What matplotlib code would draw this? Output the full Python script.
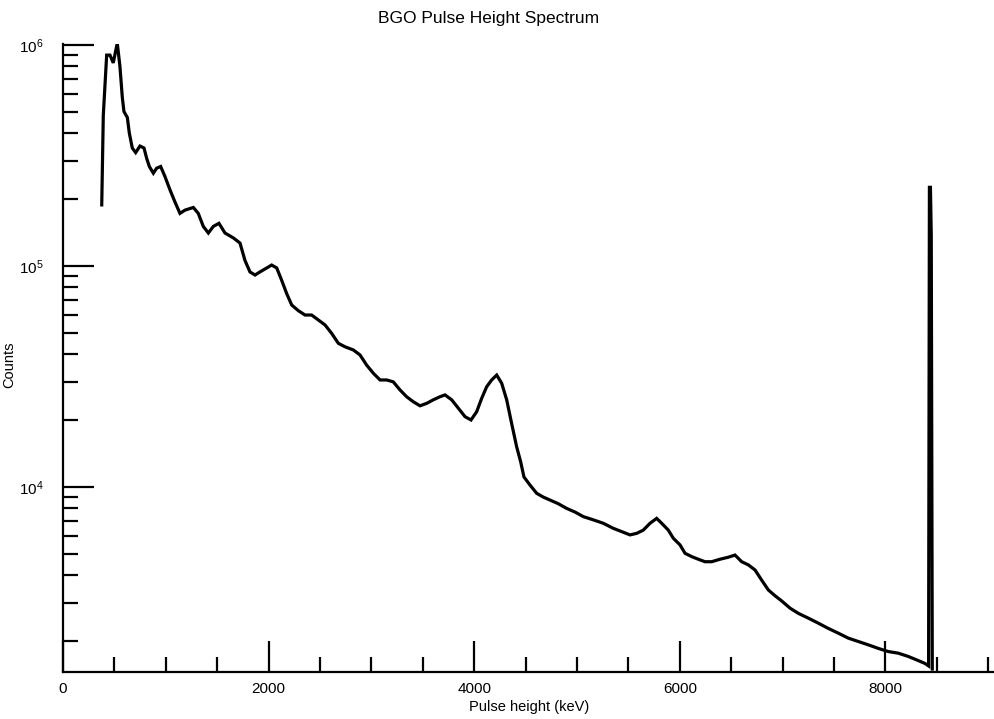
import matplotlib
matplotlib.use("Agg")
import matplotlib.pyplot as plt
from matplotlib.ticker import MultipleLocator, LogLocator, NullFormatter

plt.rcParams["font.family"] = ["Liberation Sans", "DejaVu Sans"]
plt.rcParams["mathtext.fontset"] = "custom"
plt.rcParams["mathtext.rm"] = "Liberation Sans"
plt.rcParams["mathtext.it"] = "Liberation Sans"

# pulse height (keV) and counts
energy_kev = [
    377, 392, 425, 457, 489, 528, 554, 577, 593, 626, 645, 674, 707, 749, 788,
    814, 840, 879, 911, 950, 992, 1041, 1089, 1138, 1187, 1268, 1316, 1365,
    1414, 1462, 1517, 1576, 1657, 1722, 1770, 1819, 1868, 1916, 1981, 2030,
    2079, 2128, 2176, 2225, 2289, 2354, 2419, 2484, 2549, 2613, 2678, 2743,
    2824, 2889, 2954, 3019, 3084, 3149, 3213, 3278, 3343, 3408, 3473, 3538,
    3602, 3667, 3716, 3781, 3846, 3911, 3969, 4024, 4073, 4121, 4170, 4219,
    4267, 4316, 4364, 4413, 4452, 4484, 4543, 4608, 4672, 4737, 4818, 4899,
    4981, 5062, 5159, 5256, 5353, 5435, 5516, 5581, 5645, 5710, 5775, 5824,
    5888, 5937, 6002, 6051, 6116, 6180, 6245, 6310, 6391, 6472, 6537, 6602,
    6667, 6732, 6796, 6861, 6926, 6991, 7072, 7153, 7250, 7347, 7445, 7542,
    7639, 7736, 7834, 7931, 8028, 8125, 8223, 8304, 8385, 8420, 8428, 8438,
    8446, 8456,
]
counts = [
    1.89e5, 4.8e5, 9.0e5, 9.0e5, 8.3e5, 1.02e6, 8.0e5, 5.8e5, 5.0e5, 4.7e5,
    4.0e5, 3.42e5, 3.26e5, 3.49e5, 3.42e5, 3.07e5, 2.82e5, 2.63e5, 2.77e5,
    2.82e5, 2.54e5, 2.21e5, 1.95e5, 1.73e5, 1.79e5, 1.84e5, 1.73e5, 1.51e5,
    1.41e5, 1.51e5, 1.56e5, 1.41e5, 1.34e5, 1.27e5, 1.06e5, 9.4e4, 9.1e4,
    9.4e4, 9.8e4, 1.01e5, 9.8e4, 8.6e4, 7.5e4, 6.66e4, 6.28e4, 6.0e4, 6.0e4,
    5.7e4, 5.41e4, 4.96e4, 4.47e4, 4.31e4, 4.17e4, 3.96e4, 3.56e4, 3.27e4,
    3.05e4, 3.05e4, 2.99e4, 2.75e4, 2.56e4, 2.43e4, 2.33e4, 2.39e4, 2.48e4,
    2.56e4, 2.61e4, 2.48e4, 2.27e4, 2.08e4, 2.01e4, 2.19e4, 2.52e4, 2.84e4,
    3.05e4, 3.21e4, 2.95e4, 2.48e4, 1.94e4, 1.52e4, 1.30e4, 1.11e4, 1.02e4,
    9.36e3, 9.0e3, 8.73e3, 8.4e3, 8.0e3, 7.7e3, 7.34e3, 7.1e3, 6.85e3, 6.5e3,
    6.28e3, 6.07e3, 6.17e3, 6.38e3, 6.85e3, 7.21e3, 6.85e3, 6.38e3, 5.86e3,
    5.47e3, 5.01e3, 4.84e3, 4.71e3, 4.59e3, 4.59e3, 4.71e3, 4.81e3, 4.92e3,
    4.59e3, 4.44e3, 4.21e3, 3.79e3, 3.42e3, 3.22e3, 3.05e3, 2.83e3, 2.68e3,
    2.55e3, 2.42e3, 2.29e3, 2.18e3, 2.07e3, 2.00e3, 1.93e3, 1.86e3, 1.80e3,
    1.77e3, 1.71e3, 1.65e3, 1.59e3, 1.55e3, 2.27e5, 2.27e5, 1.37e5, 1.5e3,
]

fig = plt.figure(figsize=(9.95, 7.19), dpi=100)
ax = fig.add_axes([0.0633, 0.0654, 0.9367, 0.8734])

ax.plot(energy_kev, counts, color="black", lw=2.3, solid_joinstyle="miter")

ax.set_yscale("log")
ax.set_xlim(0, 9066)
ax.set_ylim(1455, 1.0105e6)

for side in ("top", "right"):
    ax.spines[side].set_visible(False)
for side in ("left", "bottom"):
    ax.spines[side].set_linewidth(1.6)

ax.xaxis.set_major_locator(MultipleLocator(2000))
ax.xaxis.set_minor_locator(MultipleLocator(500))
ax.yaxis.set_major_locator(LogLocator(base=10))
ax.yaxis.set_minor_locator(LogLocator(base=10, subs=range(2, 10)))
ax.yaxis.set_minor_formatter(NullFormatter())

ax.tick_params(which="major", direction="in", length=22, width=1.6,
               labelsize=11, pad=7)
ax.tick_params(which="minor", direction="in", length=10.5, width=1.6)
ax.tick_params(axis="y", which="major", pad=14)

ax.set_xlabel("Pulse height (keV)", fontsize=10.5)
ax.xaxis.set_label_coords(0.5, -0.045)
ax.set_ylabel("Counts", fontsize=10.5)
ax.yaxis.set_label_coords(-0.05, 0.49)

fig.text(0.491, 0.974, "BGO Pulse Height Spectrum", ha="center", va="center",
         fontsize=12.5)

fig.savefig("out.png", dpi=100)
